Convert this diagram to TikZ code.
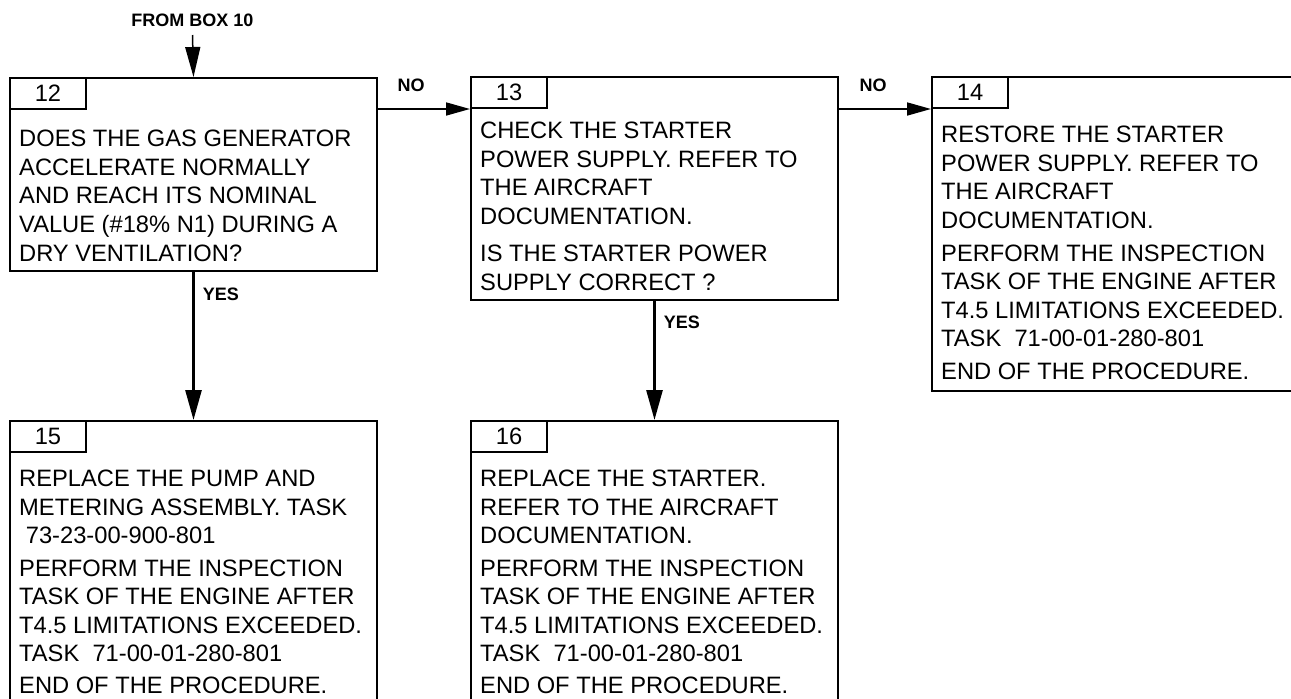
\documentclass[tikz,border=0pt]{standalone}
\usepackage{fontspec}
\setmainfont{Liberation Sans}
\usetikzlibrary{arrows.meta,positioning}

\newcommand\bodyfont{\fontsize{23.7}{28.6}\selectfont}
\newcommand\lblfont{\fontsize{18}{20}\selectfont\bfseries}

\tikzset{
	stepbox/.style={draw, line width=2pt, minimum width=367pt, anchor=north west, inner sep=0},
	numtab/.style={draw, line width=2pt, minimum width=76pt, minimum height=31pt, anchor=north west, inner sep=0, font=\bodyfont},
	body/.style={anchor=north west, inner sep=0, align=left, font=\bodyfont},
	lbl/.style={inner sep=0, font=\lblfont},
	yesarrow/.style={-{Triangle[length=30pt,width=16pt]}, line width=2.7pt},
	noarrow/.style={-{Triangle[length=24pt,width=13pt]}, line width=1.7pt},
	inarrow/.style={-{Triangle[length=30pt,width=15pt]}, line width=1.5pt},
}

\begin{document}
\begin{tikzpicture}[x=1pt,y=-1pt]
		\clip (0,0) rectangle (1291,699);
		% boxes
		\draw (9,77) node [stepbox, minimum height=193pt] (b12) {};
		\draw (470,76) node [stepbox, minimum height=223pt] (b13) {};
		\draw (931,76) node [stepbox, minimum height=314pt] (b14) {};
		\draw (9,420) node [stepbox, minimum height=300pt] (b15) {};
		\draw (470,420) node [stepbox, minimum height=300pt] (b16) {};
		% number tabs
		\node [numtab] (t12) at (b12.north west) {12};
		\node [numtab] (t13) at (b13.north west) {13};
		\node [numtab] (t14) at (b14.north west) {14};
		\node [numtab] (t15) at (b15.north west) {15};
		\node [numtab] (t16) at (b16.north west) {16};
		% texts
		\node [body] (txt12) at (19,130) {DOES THE GAS GENERATOR\\ACCELERATE NORMALLY\\AND REACH ITS NOMINAL\\VALUE (\#18\% N1) DURING A\\DRY VENTILATION?};
		\node [body] (txt13) at (480,122) {CHECK THE STARTER\\POWER SUPPLY. REFER TO\\THE AIRCRAFT\\DOCUMENTATION.\\[8.5pt]IS THE STARTER POWER\\SUPPLY CORRECT ?};
		\node [body] (txt14) at (941,126) {RESTORE THE STARTER\\POWER SUPPLY. REFER TO\\THE AIRCRAFT\\DOCUMENTATION.\\[4pt]PERFORM THE INSPECTION\\TASK OF THE ENGINE AFTER\\T4.5 LIMITATIONS EXCEEDED.\\TASK\ \ 71-00-01-280-801\\[4pt]END OF THE PROCEDURE.};
		\node [body] (txt15) at (19,470) {REPLACE THE PUMP AND\\METERING ASSEMBLY. TASK\\\hspace*{0.28em}73-23-00-900-801\\[3.5pt]PERFORM THE INSPECTION\\TASK OF THE ENGINE AFTER\\T4.5 LIMITATIONS EXCEEDED.\\TASK\ \ 71-00-01-280-801\\[3.5pt]END OF THE PROCEDURE.};
		\node [body] (txt16) at (480,470) {REPLACE THE STARTER.\\REFER TO THE AIRCRAFT\\DOCUMENTATION.\\[3.5pt]PERFORM THE INSPECTION\\TASK OF THE ENGINE AFTER\\T4.5 LIMITATIONS EXCEEDED.\\TASK\ \ 71-00-01-280-801\\[3.5pt]END OF THE PROCEDURE.};
		% entry from box 10
		\coordinate (in12) at (192.5,35);
		\node [lbl, above=8pt of in12] (from10) {FROM BOX 10};
		\draw [inarrow] (in12) -- (b12.north);
		% connectors
		\path
			(b12.south) edge [yesarrow] node [lbl, pos=.15, right=8pt] {YES} (b15.north)
			(b13.south) edge [yesarrow] node [lbl, pos=.18, right=8pt] {YES} (b16.north)
			(b12.east |- t13.south) edge [noarrow] node [lbl, pos=.36, above=16pt] {NO} (t13.south west)
			(b13.east |- t14.south) edge [noarrow] node [lbl, pos=.37, above=16pt] {NO} (t14.south west);
	\end{tikzpicture}
\end{document}
